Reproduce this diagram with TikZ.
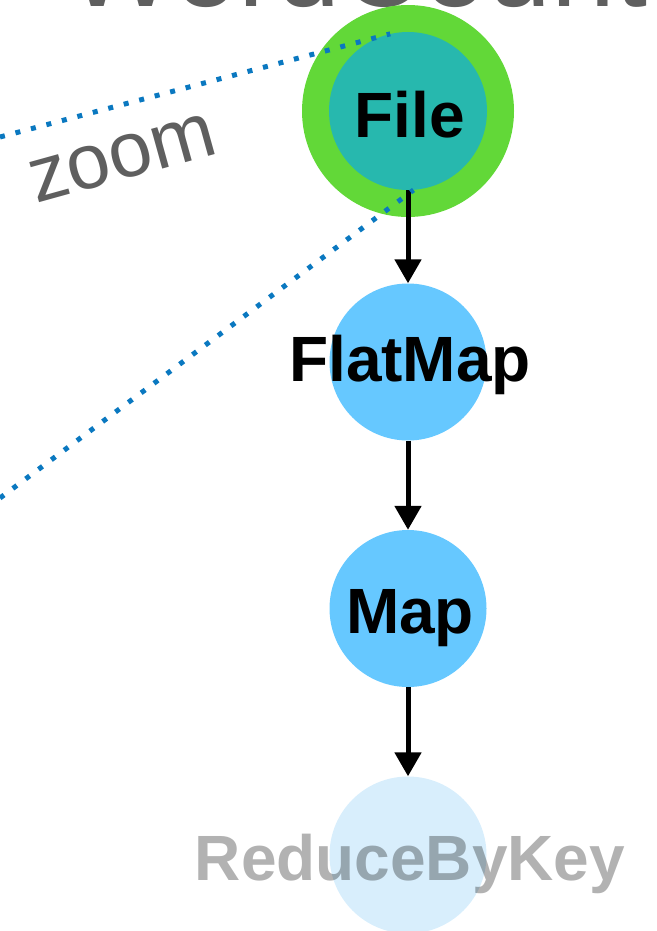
\documentclass[tikz,border=0pt]{standalone}
\usepackage{fontspec}
\setmainfont{Liberation Sans}
\usetikzlibrary{arrows.meta}
\definecolor{ringgreen}{HTML}{62D838}
\definecolor{fileteal}{HTML}{27B8AE}
\definecolor{opblue}{HTML}{66C8FF}
\definecolor{fadeblue}{HTML}{D8EEFC}
\definecolor{zoomblue}{HTML}{0A78C0}
\definecolor{titlegray}{HTML}{5F5F5F}
\begin{document}
\begin{tikzpicture}[x=1pt,y=-1pt,
  opcircle/.style={circle,minimum size=157pt,inner sep=0pt,draw=none},
  optext/.style={anchor=base,inner sep=0pt,font=\fontsize{64}{64}\selectfont\bfseries},
  flow/.style={line width=5pt,-{Triangle[width=26pt,length=24pt]}},
  zoomline/.style={zoomblue,line width=5pt,dash pattern=on 5pt off 11pt}]
\useasboundingbox (0,0) rectangle (656,931);
\node[anchor=base west,inner sep=0pt,text=titlegray,font=\fontsize{115}{115}\selectfont] (title) at (67.5,7) {WordCount};
\node[circle,fill=ringgreen,minimum size=212pt,inner sep=0pt] (fileouter) at (408,111) {};
\node[opcircle,fill=fileteal,minimum size=158pt] (file) at (408,111) {};
\node[opcircle,fill=opblue] (flatmap) at (408,362) {};
\node[opcircle,fill=opblue] (map) at (408,608.5) {};
\node[opcircle,fill=fadeblue] (reduce) at (408,855) {};
\node[optext] (filet) at (410,137) {File};
\node[optext] (flatmapt) at (410,381) {FlatMap};
\node[optext] (mapt) at (410,633) {Map};
\node[optext,text=black,text opacity=0.3] (reducet) at (410,880) {ReduceByKey};
\draw[flow] (file) -- (flatmap);
\draw[flow] (flatmap) -- (map);
\draw[flow] (map) -- (reduce);
\coordinate (za) at (0,137);
\coordinate (zb) at (0,498);
\draw[zoomline] (za) -- (file.103);
\draw[zoomline] (zb) -- (file.-86);
\node[anchor=base west,inner sep=0pt,rotate=15.5,text=titlegray,font=\fontsize{78}{78}\selectfont] (zoomt) at (36,204) {zoom};
\end{tikzpicture}
\end{document}
